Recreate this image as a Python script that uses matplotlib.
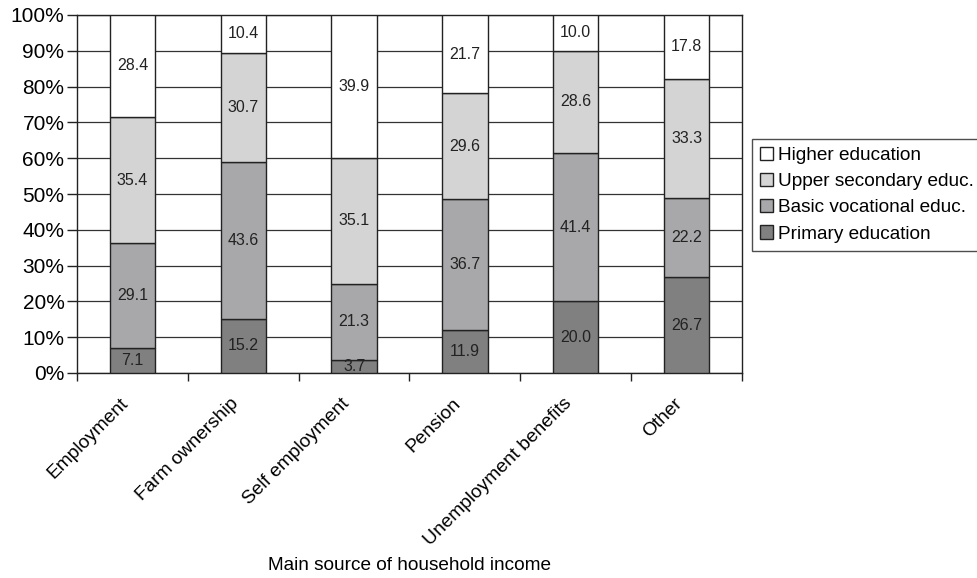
import matplotlib
matplotlib.use("Agg")
import matplotlib.pyplot as plt
import matplotlib.transforms as mtransforms
import numpy as np

categories = ["Employment", "Farm ownership", "Self employment", "Pension",
              "Unemployment benefits", "Other"]
primary = [7.1, 15.2, 3.7, 11.9, 20.0, 26.7]
basic_voc = [29.1, 43.6, 21.3, 36.7, 41.4, 22.2]
upper_sec = [35.4, 30.7, 35.1, 29.6, 28.6, 33.3]
higher = [28.4, 10.4, 39.9, 21.7, 10.0, 17.8]

series = [("Primary education", primary, "#808080"),
          ("Basic vocational educ.", basic_voc, "#a8a8aa"),
          ("Upper secondary educ.", upper_sec, "#d4d4d4"),
          ("Higher education", higher, "#ffffff")]

plt.rcParams['font.family'] = ['Liberation Sans', 'DejaVu Sans']

fig = plt.figure(figsize=(9.78, 5.78), dpi=100)
ax = fig.add_axes([77/978, 1-373/578, (742-77)/978, (373-15)/578])

x = np.arange(len(categories))
bottom = np.zeros(len(categories))
handles = {}
for name, vals, col in series:
    vals = np.array(vals)
    bars = ax.bar(x, vals, width=0.41, bottom=bottom, color=col,
                  edgecolor="#222222", linewidth=1.0, zorder=3, label=name)
    handles[name] = bars
    for xi, b, v in zip(x, bottom, vals):
        ax.text(xi, b + v/2, f"{v:.1f}", ha="center", va="center",
                fontsize=11.5, color="#222222", zorder=4)
    bottom += vals

ax.set_xlim(-0.5, len(categories) - 0.5)
ax.set_ylim(0, 100)
ax.set_yticks(np.arange(0, 101, 10))
ax.set_yticklabels([f"{v}%" for v in range(0, 101, 10)], fontsize=15)
ax.yaxis.grid(True, color="#333333", linewidth=0.9, zorder=0)
ax.set_axisbelow(True)

ax.set_xticks(x)
ax.set_xticklabels(categories, rotation=45, ha="right", rotation_mode="anchor",
                   fontsize=13.8)
ax.tick_params(axis="x", length=0, pad=16)
offset = mtransforms.ScaledTranslation(-13/100, 0, fig.dpi_scale_trans)
for lbl in ax.get_xticklabels():
    lbl.set_transform(lbl.get_transform() + offset)
ax.set_xticks(np.arange(-0.5, len(categories), 1), minor=True)
ax.tick_params(axis="x", which="minor", length=6, width=1, color="#222222")
ax.tick_params(axis="y", length=7, width=1, color="#222222", pad=2)
for s in ax.spines.values():
    s.set_color("#222222")
    s.set_linewidth(1.0)

order = ["Higher education", "Upper secondary educ.", "Basic vocational educ.",
         "Primary education"]
leg = ax.legend([handles[n] for n in order], order, loc="upper left",
                bbox_to_anchor=(752/978, 1-139/578), bbox_transform=fig.transFigure,
                fontsize=13.7, frameon=True, fancybox=False, edgecolor="#222222",
                handlelength=0.7, handleheight=0.7, handletextpad=0.25,
                borderpad=0.42, labelspacing=0.46, borderaxespad=0)
leg.get_frame().set_linewidth(1.0)

fig.text(410/978, 1-565/578, "Main source of household income", ha="center",
         va="center", fontsize=13.7)

fig.savefig("out.png", dpi=100)
